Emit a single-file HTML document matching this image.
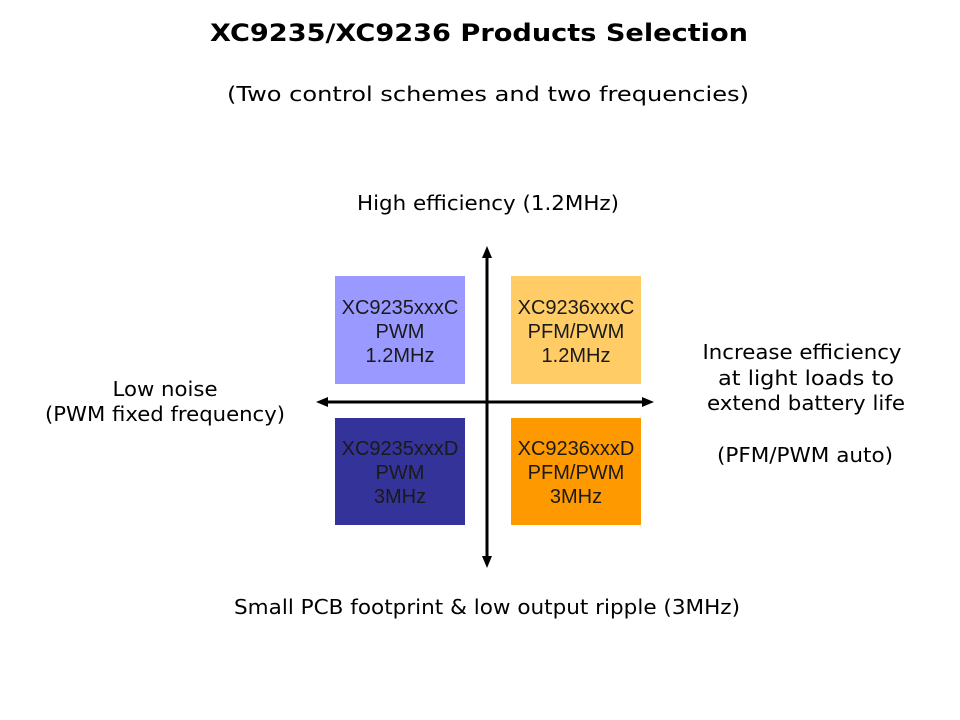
<!DOCTYPE html>
<html><head><meta charset="utf-8"><style>
html,body{margin:0;padding:0;background:#fff;}
svg{display:block}
.t{font-family:"DejaVu Sans","Liberation Sans",sans-serif;font-size:20px;fill:#000}
.b{font-family:"Liberation Sans",sans-serif;font-size:20px;fill:#1a1a1a}
</style></head><body>
<svg width="960" height="720" viewBox="0 0 960 720" xmlns="http://www.w3.org/2000/svg">
<text x="479" y="41" text-anchor="middle" font-family="DejaVu Sans,sans-serif" font-weight="bold" font-size="24" textLength="538" lengthAdjust="spacingAndGlyphs">XC9235/XC9236 Products Selection</text>
<text class="t" x="488" y="101" text-anchor="middle" font-size="21" textLength="522" lengthAdjust="spacingAndGlyphs">(Two control schemes and two frequencies)</text>
<text class="t" x="488" y="210" text-anchor="middle" textLength="262" lengthAdjust="spacingAndGlyphs">High efficiency (1.2MHz)</text>
<text class="t" x="487" y="614" text-anchor="middle" textLength="506" lengthAdjust="spacingAndGlyphs">Small PCB footprint &amp; low output ripple (3MHz)</text>
<text class="t" x="165" y="396" text-anchor="middle" textLength="105" lengthAdjust="spacingAndGlyphs">Low noise</text>
<text class="t" x="165" y="421" text-anchor="middle" textLength="240" lengthAdjust="spacingAndGlyphs">(PWM fixed frequency)</text>
<text class="t" x="802" y="359" text-anchor="middle" textLength="199" lengthAdjust="spacingAndGlyphs">Increase efficiency</text>
<text class="t" x="806" y="385" text-anchor="middle" textLength="176" lengthAdjust="spacingAndGlyphs">at light loads to</text>
<text class="t" x="806" y="410" text-anchor="middle" textLength="198" lengthAdjust="spacingAndGlyphs">extend battery life</text>
<text class="t" x="805" y="462" text-anchor="middle" textLength="176" lengthAdjust="spacingAndGlyphs">(PFM/PWM auto)</text>
<rect x="335" y="276" width="130" height="108" fill="#9999ff"/>
<rect x="511" y="276" width="130" height="108" fill="#ffcc66"/>
<rect x="335" y="418" width="130" height="107" fill="#333399"/>
<rect x="511" y="418" width="130" height="107" fill="#ff9900"/>
<g class="b" text-anchor="middle">
<text x="400" y="314">XC9235xxxC</text><text x="400" y="338">PWM</text><text x="400" y="362">1.2MHz</text>
<text x="576" y="314">XC9236xxxC</text><text x="576" y="338">PFM/PWM</text><text x="576" y="362">1.2MHz</text>
<text x="400" y="455">XC9235xxxD</text><text x="400" y="479">PWM</text><text x="400" y="503">3MHz</text>
<text x="576" y="455">XC9236xxxD</text><text x="576" y="479">PFM/PWM</text><text x="576" y="503">3MHz</text>
</g>
<line x1="487" y1="254" x2="487" y2="560" stroke="#000" stroke-width="3"/>
<polygon points="487,246 482,258 492,258" fill="#000"/>
<polygon points="487,568 482,556 492,556" fill="#000"/>
<line x1="324" y1="402" x2="646" y2="402" stroke="#000" stroke-width="3"/>
<polygon points="316,402 328,397 328,407" fill="#000"/>
<polygon points="654,402 642,397 642,407" fill="#000"/>
</svg>
</body></html>
